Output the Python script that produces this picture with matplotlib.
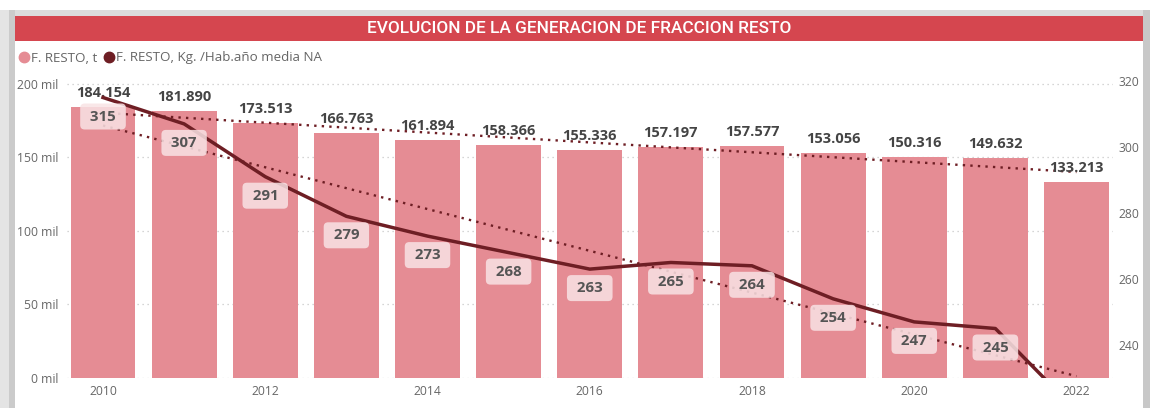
import matplotlib

matplotlib.use("Agg")
import matplotlib.pyplot as plt
import numpy as np
from matplotlib.lines import Line2D
from matplotlib.patches import Rectangle
from matplotlib.ticker import FuncFormatter

years = [2010, 2011, 2012, 2013, 2014, 2015, 2016, 2017, 2018, 2019, 2020, 2021, 2022]
resto_t = [184154, 181890, 173513, 166763, 161894, 158366, 155336, 157197, 157577,
           153056, 150316, 149632, 133213]
resto_kg_hab = [315, 307, 291, 279, 273, 268, 263, 265, 264, 254, 247, 245, 220]
year_ticks = [2010, 2012, 2014, 2016, 2018, 2020, 2022]

title = "EVOLUCION DE LA GENERACION DE FRACCION RESTO"
legend_labels = ["F. RESTO, t", "F. RESTO, Kg. /Hab.año media NA"]

BAR = "#E58C94"
DARK = "#6E1E24"
RED = "#D5464F"
GREY = "#666666"
LABEL = "#444444"

plt.rcParams["font.family"] = ["Open Sans", "DejaVu Sans"]

W, H = 1150, 408
fig = plt.figure(figsize=(W / 100, H / 100), dpi=100)


def px(x0, y0, x1, y1):
    # pixel box (top-left origin) -> figure fraction rect
    return (x0 / W, 1 - y1 / H), (x1 - x0) / W, (y1 - y0) / H


# frame decorations
for box, col in [((0, 10, 1150, 16), "#DCDCDC"), ((0, 10, 9, 408), "#E4E4E4"),
                 ((9, 10, 15, 408), "#CBCBCB"),
                 ((1143, 10, 1150, 408), "#C8C8C8"), ((15, 16, 1143, 41), RED)]:
    xy, w, h = px(*box)
    fig.patches.append(Rectangle(xy, w, h, transform=fig.transFigure, color=col, lw=0))

fig.text(579 / W, 1 - 28.5 / H, title, ha="center", va="center", color="white",
         fontsize=12.4, fontweight="medium", family=["Roboto", "DejaVu Sans"])

ax = fig.add_axes([66.5 / W, 1 - 378 / H, (1113 - 66.5) / W, (378 - 81) / H])
x = np.arange(len(years))

ax.bar(x, resto_t, width=0.8, color=BAR, zorder=2)
ax.set_ylim(0, 202000)
ax.set_xlim(-0.45, len(years) - 0.55)
ax.set_yticks([0, 50000, 100000, 150000, 200000])
ax.yaxis.set_major_formatter(FuncFormatter(lambda v, _: f"{v / 1000:.0f} mil"))
ax.set_xticks([years.index(y) for y in year_ticks])
ax.set_xticklabels([str(y) for y in year_ticks])
ax.grid(axis="y", color="#C8C8C8", ls=(0, (1, 3)), lw=0.9)
ax.set_axisbelow(True)
for s in ax.spines.values():
    s.set_visible(False)
ax.tick_params(axis="both", length=0, colors=GREY, labelsize=8.7)
ax.tick_params(axis="y", pad=6)
ax.tick_params(axis="x", pad=5)

# trend of tonnes
c1 = np.polyfit(x, resto_t, 1)
ax.plot(x, np.polyval(c1, x), color=DARK, ls=(0, (1, 2.2)), lw=1.7, zorder=3)

for xi, v in zip(x, resto_t):
    ax.annotate(f"{v:,}".replace(",", "."), (xi, v), xytext=(0, 10), textcoords="offset pixels",
                ha="center", va="baseline", fontsize=10.5, fontweight="bold", color=LABEL, zorder=5)

ax2 = ax.twinx()
ax2.set_ylim(230, 320)
ax2.set_yticks([240, 260, 280, 300, 320])
for s in ax2.spines.values():
    s.set_visible(False)
ax2.tick_params(axis="y", length=0, colors=GREY, labelsize=8.7, pad=4)

c2 = np.polyfit(x, resto_kg_hab, 1)
ax2.plot(x, np.polyval(c2, x), color=DARK, ls=(0, (1, 2.2)), lw=1.7, zorder=2)
ax2.plot(x, resto_kg_hab, color=DARK, lw=2.5, zorder=3, solid_joinstyle="round")

for xi, v in zip(x, resto_kg_hab):
    if v < 230:
        continue
    ax2.annotate(f" {v} ", (xi, v), xytext=(0, -19), textcoords="offset pixels",
                 ha="center", va="center", fontsize=10.8, fontweight="bold", color="#555555",
                 bbox=dict(boxstyle="round,pad=0.4,rounding_size=0.3", fc="#F9E3E5",
                           ec="none", alpha=0.85), zorder=6)

handles = [Line2D([], [], ls="none", marker="o", ms=7.5, color=BAR),
           Line2D([], [], ls="none", marker="o", ms=7.5, color=DARK)]
fig.legend(handles, legend_labels, loc="center left", bbox_to_anchor=(20 / W, 1 - 58 / H),
           ncol=2, frameon=False, handlelength=0.55, handletextpad=0.3, columnspacing=0.55,
           borderaxespad=0, borderpad=0, fontsize=9.6, labelcolor=GREY)

fig.savefig("out.png", dpi=100)
